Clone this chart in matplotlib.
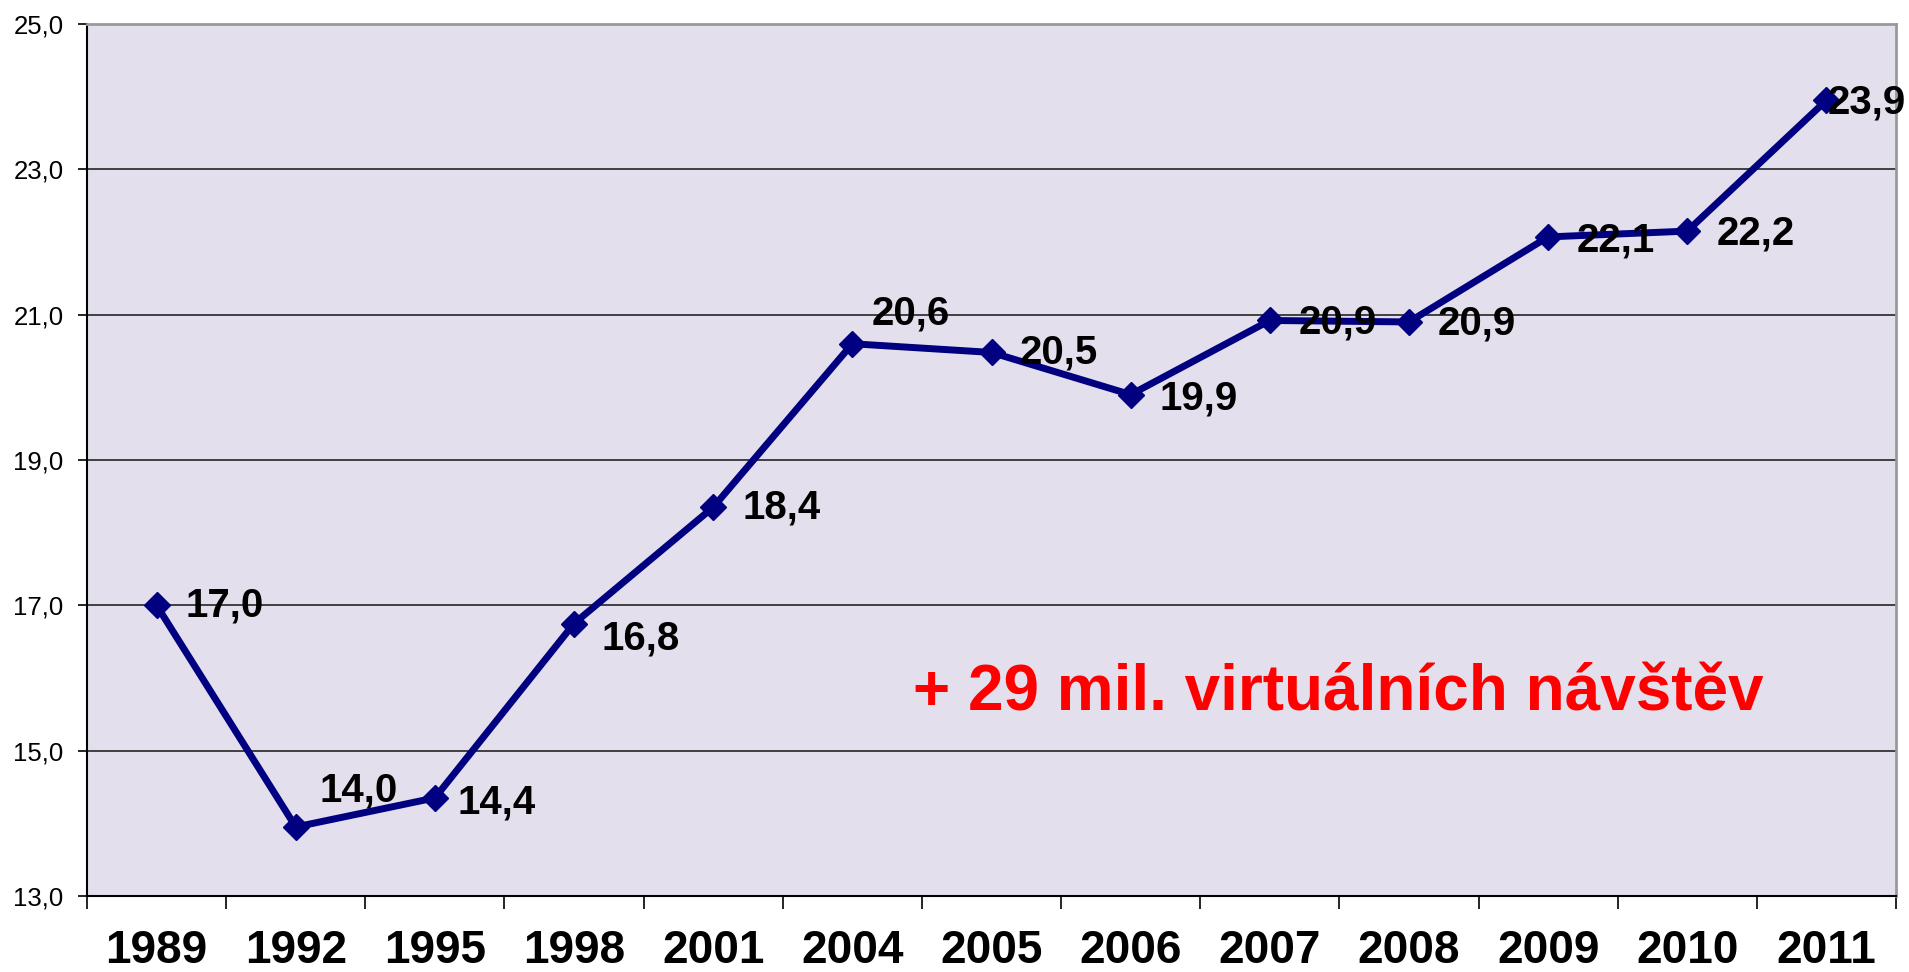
import matplotlib
matplotlib.use("Agg")
import matplotlib.pyplot as plt
from matplotlib.ticker import FixedLocator, FuncFormatter

years = ["1989", "1992", "1995", "1998", "2001", "2004", "2005", "2006",
         "2007", "2008", "2009", "2010", "2011"]
values = [17.0, 14.0, 14.4, 16.8, 18.4, 20.6, 20.5, 19.9, 20.9, 20.9, 22.1, 22.2, 23.9]
point_values = [17.0, 13.95, 14.35, 16.75, 18.35, 20.6, 20.48, 19.9, 20.92, 20.9, 22.07, 22.15, 23.95]
y_ticks = [13, 15, 17, 19, 21, 23, 25]
note = "+ 29 mil. virtuálních návštěv"

# label offsets in pixels (dx, dy) relative to points
label_offsets = [(29, 0), (24, 36), (23, -5), (27, -15), (29, 0), (19, 30),
                 (28, 0), (29, -4), (29, -2), (29, -2), (29, -4), (29, -2), (1, -2)]

plt.rcParams['font.family'] = ['Liberation Sans', 'DejaVu Sans']

fig = plt.figure(figsize=(19.09, 9.72), dpi=100)
ax = fig.add_axes([87/1909, 1 - 896/972, (1896-87)/1909, (896-24)/972])
ax.set_facecolor('#E4DFEC')

x = list(range(len(years)))
ax.plot(x, point_values, color='#000080', linewidth=5, marker='D',
        markersize=13.5, markerfacecolor='#000080', markeredgecolor='#000080',
        zorder=3, clip_on=False)

for xi, yv, v, (dx, dy) in zip(x, point_values, values, label_offsets):
    ax.annotate(f"{v:.1f}".replace('.', ','), xy=(xi, yv), xytext=(dx, dy),
                textcoords='offset pixels', ha='left', va='center',
                fontsize=29, fontweight='bold', color='black', zorder=4,
                annotation_clip=False)

ax.set_xlim(-0.5, len(years) - 0.5)
ax.set_ylim(13, 25)

ax.set_yticks(y_ticks)
ax.yaxis.set_major_formatter(FuncFormatter(lambda v, p: f"{v:.1f}".replace('.', ',')))
ax.yaxis.grid(True, color='#333333', linewidth=1.3)
ax.set_axisbelow(True)
ax.tick_params(axis='y', direction='out', length=6.5, width=1.2, pad=10.5,
               labelsize=18.5, colors='black')

ax.set_xticks(x)
ax.set_xticklabels(years)
ax.xaxis.set_minor_locator(FixedLocator([i - 0.5 for i in range(len(years) + 1)]))
ax.tick_params(axis='x', which='major', length=0, pad=24, labelsize=33)
for lbl in ax.get_xticklabels():
    lbl.set_fontweight('bold')
ax.tick_params(axis='x', which='minor', direction='out', length=9.5, width=1.2,
               color='black')

for side in ['left', 'bottom']:
    ax.spines[side].set_color('black')
    ax.spines[side].set_linewidth(1.5)
for side in ['top', 'right']:
    ax.spines[side].set_color('#999999')
    ax.spines[side].set_linewidth(2)

ax.text(5.436, 15.546, note, color='#FF0000', fontsize=46, fontweight='bold',
        ha='left', va='baseline', zorder=4)

fig.savefig('out.png', dpi=100, facecolor='white')
